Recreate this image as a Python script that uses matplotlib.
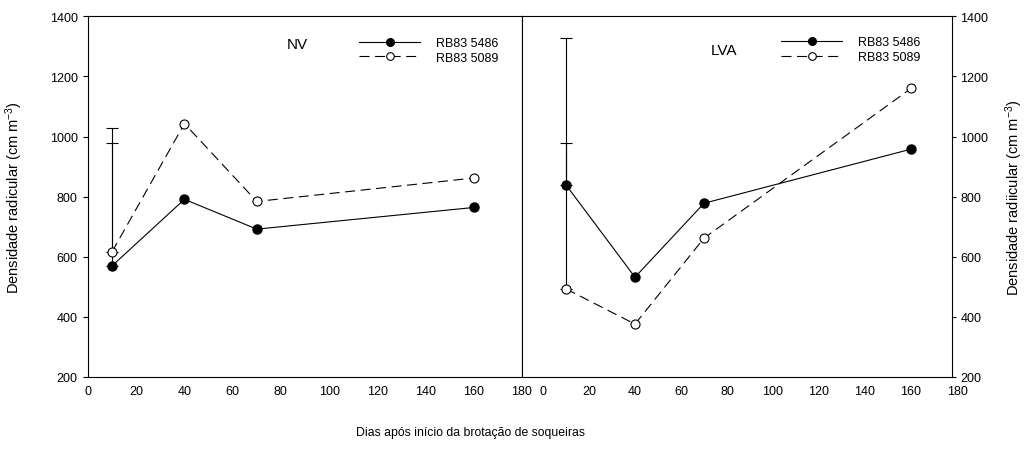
import matplotlib
matplotlib.use("Agg")
import matplotlib.pyplot as plt
from matplotlib.lines import Line2D

plt.rcParams["font.family"] = ["Liberation Sans", "DejaVu Sans"]
plt.rcParams["mathtext.fontset"] = "custom"
plt.rcParams["mathtext.rm"] = "Liberation Sans"
plt.rcParams["mathtext.it"] = "Liberation Sans"

# days after ratoon sprouting
days = [10, 40, 70, 160]

# NV soil
nv_5486 = [570, 791, 692, 764]
nv_5089 = [617, 1043, 784, 862]
nv_5486_err = [410, 0, 0, 0]
nv_5089_err = [410, 0, 0, 0]

# LVA soil
lva_5486 = [839, 532, 778, 958]
lva_5089 = [493, 376, 662, 1160]
lva_5486_err = [490, 0, 0, 0]
lva_5089_err = [487, 0, 0, 0]

cultivars = ["RB83 5486", "RB83 5089"]
yticks = [200, 400, 600, 800, 1000, 1200, 1400]
xticks = [0, 20, 40, 60, 80, 100, 120, 140, 160, 180]

W, H = 1024, 452
fig = plt.figure(figsize=(W / 100, H / 100), dpi=100)
fig.patch.set_facecolor("white")

def fx(px): return px / W
def fy(py): return 1 - py / H

axL = fig.add_axes([fx(88), fy(378), fx(522) - fx(88), fy(17.3) - fy(378)])
axR = fig.add_axes([fx(522), fy(378), fx(957) - fx(522), fy(17.3) - fy(378)])

LW = 0.8
TICK_FS = 9
styles = [dict(color="black", lw=LW, ls="-", marker="o", ms=6.5, mfc="black", mec="black"),
          dict(color="black", lw=LW, ls=(0, (9, 5)), marker="o", ms=6.5, mfc="white", mec="black", mew=0.8)]

def draw(ax, series, errs):
    for vals, err, st in zip(series, errs, styles):
        ax.plot(days, vals, zorder=3, **st)
        xs = [d for d, e in zip(days, err) if e > 0]
        ys = [v for v, e in zip(vals, err) if e > 0]
        es = [e for e in err if e > 0]
        ax.errorbar(xs, ys, yerr=[[0] * len(es), es], fmt="none", ecolor="black",
                    elinewidth=LW, capsize=4, capthick=LW, zorder=2)
    ax.set_ylim(200, 1400)
    ax.set_yticks(yticks)
    ax.set_xticks(xticks)
    ax.tick_params(axis="x", length=0, pad=6, labelsize=TICK_FS)
    ax.tick_params(axis="y", direction="out", length=3.5, width=0.8, pad=4, labelsize=TICK_FS)
    for s in ax.spines.values():
        s.set_linewidth(0.8)

draw(axL, [nv_5486, nv_5089], [nv_5486_err, nv_5089_err])
draw(axR, [lva_5486, lva_5089], [lva_5486_err, lva_5089_err])

axL.set_xlim(0, 180)
axL.set_ylabel("Densidade radicular (cm m$^{-3}$)", fontsize=10.5)
axL.yaxis.set_label_coords(-0.145, 0.5)

# right panel: 0 sits a bit in from the shared spine, right spine just before 180
xr0 = -9.13
xr1 = 177.8
axR.set_xlim(xr0, 180)
axR.spines["right"].set_position(("data", xr1))
axR.spines["top"].set_bounds(xr0, xr1)
axR.spines["bottom"].set_bounds(xr0, xr1)
axR.yaxis.tick_right()
axR.yaxis.set_label_position("right")
axR.tick_params(axis="y", length=3, pad=3)
axR.set_ylabel("Densidade radiicular (cm m$^{-3}$)", fontsize=10.5)
axR.yaxis.set_label_coords(1.106, 0.5)

def legend(ax, x, y, title, tx, ty):
    handles = [Line2D([], [], **styles[0]), Line2D([], [], **styles[1])]
    for h in handles:
        h.set_markersize(5.5)
    ax.legend(handles, cultivars, loc="upper left", bbox_to_anchor=(fx(x), fy(y)),
              bbox_transform=fig.transFigure, frameon=False, fontsize=9,
              handlelength=4.9, handletextpad=1.3, labelspacing=0.2,
              borderpad=0, borderaxespad=0)
    fig.text(fx(tx), fy(ty), title, fontsize=11, ha="left", va="center")

legend(axL, 359, 38, "NV", 287, 45)
legend(axR, 781, 37.5, "LVA", 711, 51)

fig.text(fx(470), fy(433), "Dias após início da brotação de soqueiras", fontsize=8.8,
         ha="center", va="center")

fig.savefig("out.png", dpi=100, facecolor="white")
